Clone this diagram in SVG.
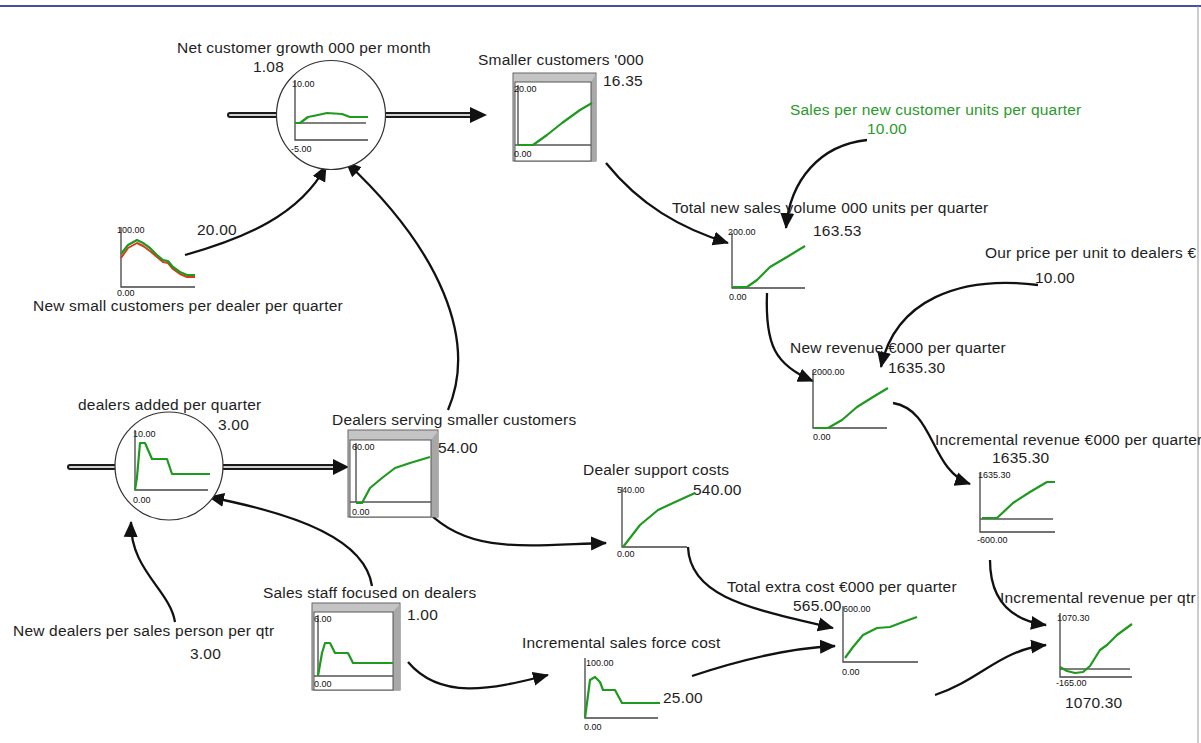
<svg xmlns="http://www.w3.org/2000/svg" width="1201" height="743" viewBox="0 0 1201 743">
<defs>
<style>
text{font-family:"Liberation Sans",Arial,sans-serif;fill:#1e1e1e}
.lbl{font-size:15.5px;letter-spacing:0.2px}
.ax{font-size:9px;fill:#111}
.green{fill:#2a9a2a}
.axis{stroke:#444;stroke-width:1.3;fill:none}
.zero{stroke:#555;stroke-width:1.3;fill:none}
.g{stroke:#1e9a1e;stroke-width:2.2;fill:none;stroke-linejoin:round}
.r{stroke:#d83a1a;stroke-width:2;fill:none;stroke-linejoin:round}
.con{stroke:#111;stroke-width:2.3;fill:none}
.pipeo{stroke:#1a1a1a;stroke-width:6;fill:none;stroke-linecap:round}
.pipei{stroke:#d0d0d0;stroke-width:2;fill:none;stroke-linecap:round}
.circ{fill:#fff;stroke:#333;stroke-width:1.2}
.bev{fill:#c4c4c4;stroke:#666;stroke-width:1}
.side{fill:#a8a8a8}
.inner{fill:#fff;stroke:#555;stroke-width:1}
</style>
<marker id="ah" markerUnits="userSpaceOnUse" markerWidth="18" markerHeight="16" refX="15" refY="8" orient="auto" viewBox="0 0 18 16">
<path d="M0,1 L16,8 L0,15 z" fill="#111"/>
</marker>
</defs>
<rect width="1201" height="743" fill="#fff"/>
<line x1="0" y1="6" x2="1201" y2="6" stroke="#4a4aa8" stroke-width="2"/>
<line x1="1198" y1="6" x2="1198" y2="743" stroke="#999" stroke-width="1"/>

<g id="connectors">
<path class="con" d="M185,255 C245,238 300,215 326,166" marker-end="url(#ah)"/>
<path class="con" d="M448,410 C478,340 440,250 346,162" marker-end="url(#ah)"/>
<path class="con" d="M606,163 C640,205 680,228 728,243" marker-end="url(#ah)"/>
<path class="con" d="M867,140 C820,145 790,180 786,228" marker-end="url(#ah)"/>
<path class="con" d="M767,293 C765,345 775,365 813,381" marker-end="url(#ah)"/>
<path class="con" d="M1038,285 C960,275 895,300 881,367" marker-end="url(#ah)"/>
<path class="con" d="M893,403 C935,410 930,470 970,484" marker-end="url(#ah)"/>
<path class="con" d="M428,512 C470,555 530,545 606,543" marker-end="url(#ah)"/>
<path class="con" d="M688,547 C690,600 760,610 833,628" marker-end="url(#ah)"/>
<path class="con" d="M692,676 C740,660 790,648 835,646" marker-end="url(#ah)"/>
<path class="con" d="M935,695 C980,680 1000,650 1046,645" marker-end="url(#ah)"/>
<path class="con" d="M990,560 C990,600 1010,620 1046,625" marker-end="url(#ah)"/>
<path class="con" d="M408,662 C440,700 490,690 548,675" marker-end="url(#ah)"/>
<path class="con" d="M372,586 C365,540 300,515 209,497" marker-end="url(#ah)"/>
<path class="con" d="M175,622 C170,590 130,570 131,522" marker-end="url(#ah)"/>
<!-- flow pipes -->
<path class="pipeo" d="M230,115 H277"/><path class="pipei" d="M230,115 H277"/>
<path class="pipeo" d="M385,115 H472"/><path class="pipei" d="M385,115 H472"/>
<path d="M470,107 L487,115 L470,123 z" fill="#111"/>
<path class="pipeo" d="M70,467 H115"/><path class="pipei" d="M70,467 H115"/>
<path class="pipeo" d="M223,467 H334"/><path class="pipei" d="M223,467 H334"/>
<path d="M333,459 L349,467 L333,475 z" fill="#111"/>
</g>

<g id="net-customer-growth">
<text class="lbl" x="177" y="53">Net customer growth 000 per month</text>
<text class="lbl" x="253" y="72">1.08</text>
<circle class="circ" cx="331" cy="115" r="54.5"/>
<text class="ax" x="292" y="87">10.00</text>
<text class="ax" x="291" y="152">-5.00</text>
<path class="axis" d="M295,80 V140 H368"/>
<path class="zero" d="M295,123 H366"/>
<path class="g" d="M295,123 L300,123 L308,117 L318,115 L327,113 L342,114 L350,117 L368,117"/>
</g>

<g id="smaller-customers">
<text class="lbl" x="478" y="65">Smaller customers '000</text>
<text class="lbl" x="603" y="86">16.35</text>
<rect class="bev" x="513" y="73" width="83" height="88"/>
<path class="side" d="M591,82 L596,74 L596,161 L591,161 z"/>
<rect class="inner" x="515" y="82" width="76" height="79"/>
<path class="axis" d="M518,85 V145"/>
<path class="zero" d="M515,145 H591"/>
<text class="ax" x="514" y="92">20.00</text>
<text class="ax" x="514" y="157">0.00</text>
<path class="g" d="M518,145 L533,145 L547,135 L562,123 L580,110 L592,103"/>
</g>

<g id="new-small-customers">
<text class="lbl" x="33" y="311">New small customers per dealer per quarter</text>
<text class="lbl" x="197" y="235">20.00</text>
<text class="ax" x="117" y="233">100.00</text>
<text class="ax" x="117" y="296">0.00</text>
<path class="axis" d="M121,227 V287 H195"/>
<path class="r" d="M121,258 L128,248 L137,243 L143,246 L150,251 L157,257 L163,262 L168,263 L173,269 L180,274 L187,277 L195,277"/>
<path class="g" d="M121,254 L128,245 L137,240 L143,243 L150,248 L157,255 L163,260 L168,261 L173,267 L180,272 L187,275 L195,275"/>
</g>

<g id="sales-per-new-customer">
<text class="lbl green" x="790" y="115">Sales per new customer units per quarter</text>
<text class="lbl green" x="867" y="134">10.00</text>
</g>

<g id="total-new-sales-volume">
<text class="lbl" x="672" y="213">Total new sales volume 000 units per quarter</text>
<text class="lbl" x="813" y="236">163.53</text>
<text class="ax" x="728" y="235">200.00</text>
<text class="ax" x="729" y="300">0.00</text>
<path class="axis" d="M732,233 V288 H805"/>
<path class="g" d="M733,287 L747,287 L757,280 L770,267 L787,257 L805,246"/>
</g>

<g id="our-price">
<text class="lbl" x="985" y="258">Our price per unit to dealers €</text>
<text class="lbl" x="1035" y="283">10.00</text>
</g>

<g id="new-revenue">
<text class="lbl" x="790" y="353">New revenue €000 per quarter</text>
<text class="lbl" x="888" y="373">1635.30</text>
<text class="ax" x="812" y="375">2000.00</text>
<text class="ax" x="813" y="440">0.00</text>
<path class="axis" d="M813,370 V428 H887"/>
<path class="g" d="M815,428 L828,428 L842,420 L857,407 L873,397 L888,388"/>
</g>

<g id="incremental-revenue-000">
<text class="lbl" x="935" y="445">Incremental revenue €000 per quarter</text>
<text class="lbl" x="992" y="463">1635.30</text>
<text class="ax" x="978" y="478">1635.30</text>
<text class="ax" x="977" y="543">-600.00</text>
<path class="axis" d="M980,473 V532 H1055"/>
<path class="zero" d="M980,519 H1053"/>
<path class="g" d="M982,518 L997,518 L1013,503 L1030,492 L1047,482 L1055,482"/>
</g>

<g id="dealers-added">
<text class="lbl" x="78" y="410">dealers added per quarter</text>
<text class="lbl" x="218" y="430">3.00</text>
<circle class="circ" cx="169" cy="466" r="54"/>
<text class="ax" x="133" y="437">10.00</text>
<text class="ax" x="133" y="503">0.00</text>
<path class="axis" d="M135,430 V490 H208"/>
<path class="g" d="M135,490 L137,477 L140,443 L145,443 L152,459 L167,459 L172,474 L210,474"/>
</g>

<g id="dealers-serving">
<text class="lbl" x="332" y="425">Dealers serving smaller customers</text>
<text class="lbl" x="438" y="453">54.00</text>
<rect class="bev" x="348" y="430" width="90" height="87"/>
<path class="side" d="M431,440 L438,431 L438,517 L431,517 z"/>
<rect class="inner" x="350" y="440" width="81" height="77"/>
<path class="axis" d="M356,443 V502"/>
<path class="zero" d="M350,502 H431"/>
<text class="ax" x="352" y="450">60.00</text>
<text class="ax" x="352" y="515">0.00</text>
<path class="g" d="M356,503 L362,503 L370,488 L382,478 L395,468 L410,463 L430,457"/>
</g>

<g id="dealer-support-costs">
<text class="lbl" x="583" y="475">Dealer support costs</text>
<text class="lbl" x="693" y="495">540.00</text>
<text class="ax" x="617" y="493">540.00</text>
<text class="ax" x="617" y="557">0.00</text>
<path class="axis" d="M622,487 V547 H687"/>
<path class="g" d="M623,547 L630,538 L640,525 L658,510 L673,503 L695,493"/>
</g>

<g id="new-dealers-per-sales-person">
<text class="lbl" x="13" y="636">New dealers per sales person per qtr</text>
<text class="lbl" x="190" y="659">3.00</text>
</g>

<g id="sales-staff">
<text class="lbl" x="263" y="598">Sales staff focused on dealers</text>
<text class="lbl" x="407" y="620">1.00</text>
<rect class="bev" x="312" y="603" width="88" height="87"/>
<path class="side" d="M393,612 L400,604 L400,690 L393,690 z"/>
<rect class="inner" x="314" y="612" width="79" height="78"/>
<path class="axis" d="M318,615 V676"/>
<path class="zero" d="M314,676 H393"/>
<text class="ax" x="314" y="622">6.00</text>
<text class="ax" x="314" y="687">0.00</text>
<path class="g" d="M318,676 L322,653 L325,643 L330,643 L335,653 L348,653 L353,663 L393,663"/>
</g>

<g id="incremental-sales-force-cost">
<text class="lbl" x="522" y="648">Incremental sales force cost</text>
<text class="lbl" x="663" y="703">25.00</text>
<text class="ax" x="586" y="666">100.00</text>
<text class="ax" x="584" y="730">0.00</text>
<path class="axis" d="M585,658 V718 H658"/>
<path class="g" d="M585,718 L590,680 L595,677 L600,682 L603,690 L615,690 L622,703 L660,703"/>
</g>

<g id="total-extra-cost">
<text class="lbl" x="727" y="592">Total extra cost €000 per quarter</text>
<text class="lbl" x="793" y="611">565.00</text>
<text class="ax" x="843" y="612">600.00</text>
<text class="ax" x="842" y="675">0.00</text>
<path class="axis" d="M843,606 V662 H918"/>
<path class="g" d="M845,658 L853,647 L863,635 L877,628 L890,627 L903,622 L917,617"/>
</g>

<g id="incremental-revenue-per-qtr">
<text class="lbl" x="1000" y="603">Incremental revenue per qtr</text>
<text class="lbl" x="1065" y="708">1070.30</text>
<text class="ax" x="1057" y="621">1070.30</text>
<text class="ax" x="1056" y="686">-165.00</text>
<path class="axis" d="M1060,613 V677 H1132"/>
<path class="zero" d="M1060,669 H1130"/>
<path class="g" d="M1060,667 L1067,671 L1075,673 L1083,672 L1090,666 L1100,650 L1107,645 L1117,635 L1132,624"/>
</g>
</svg>
